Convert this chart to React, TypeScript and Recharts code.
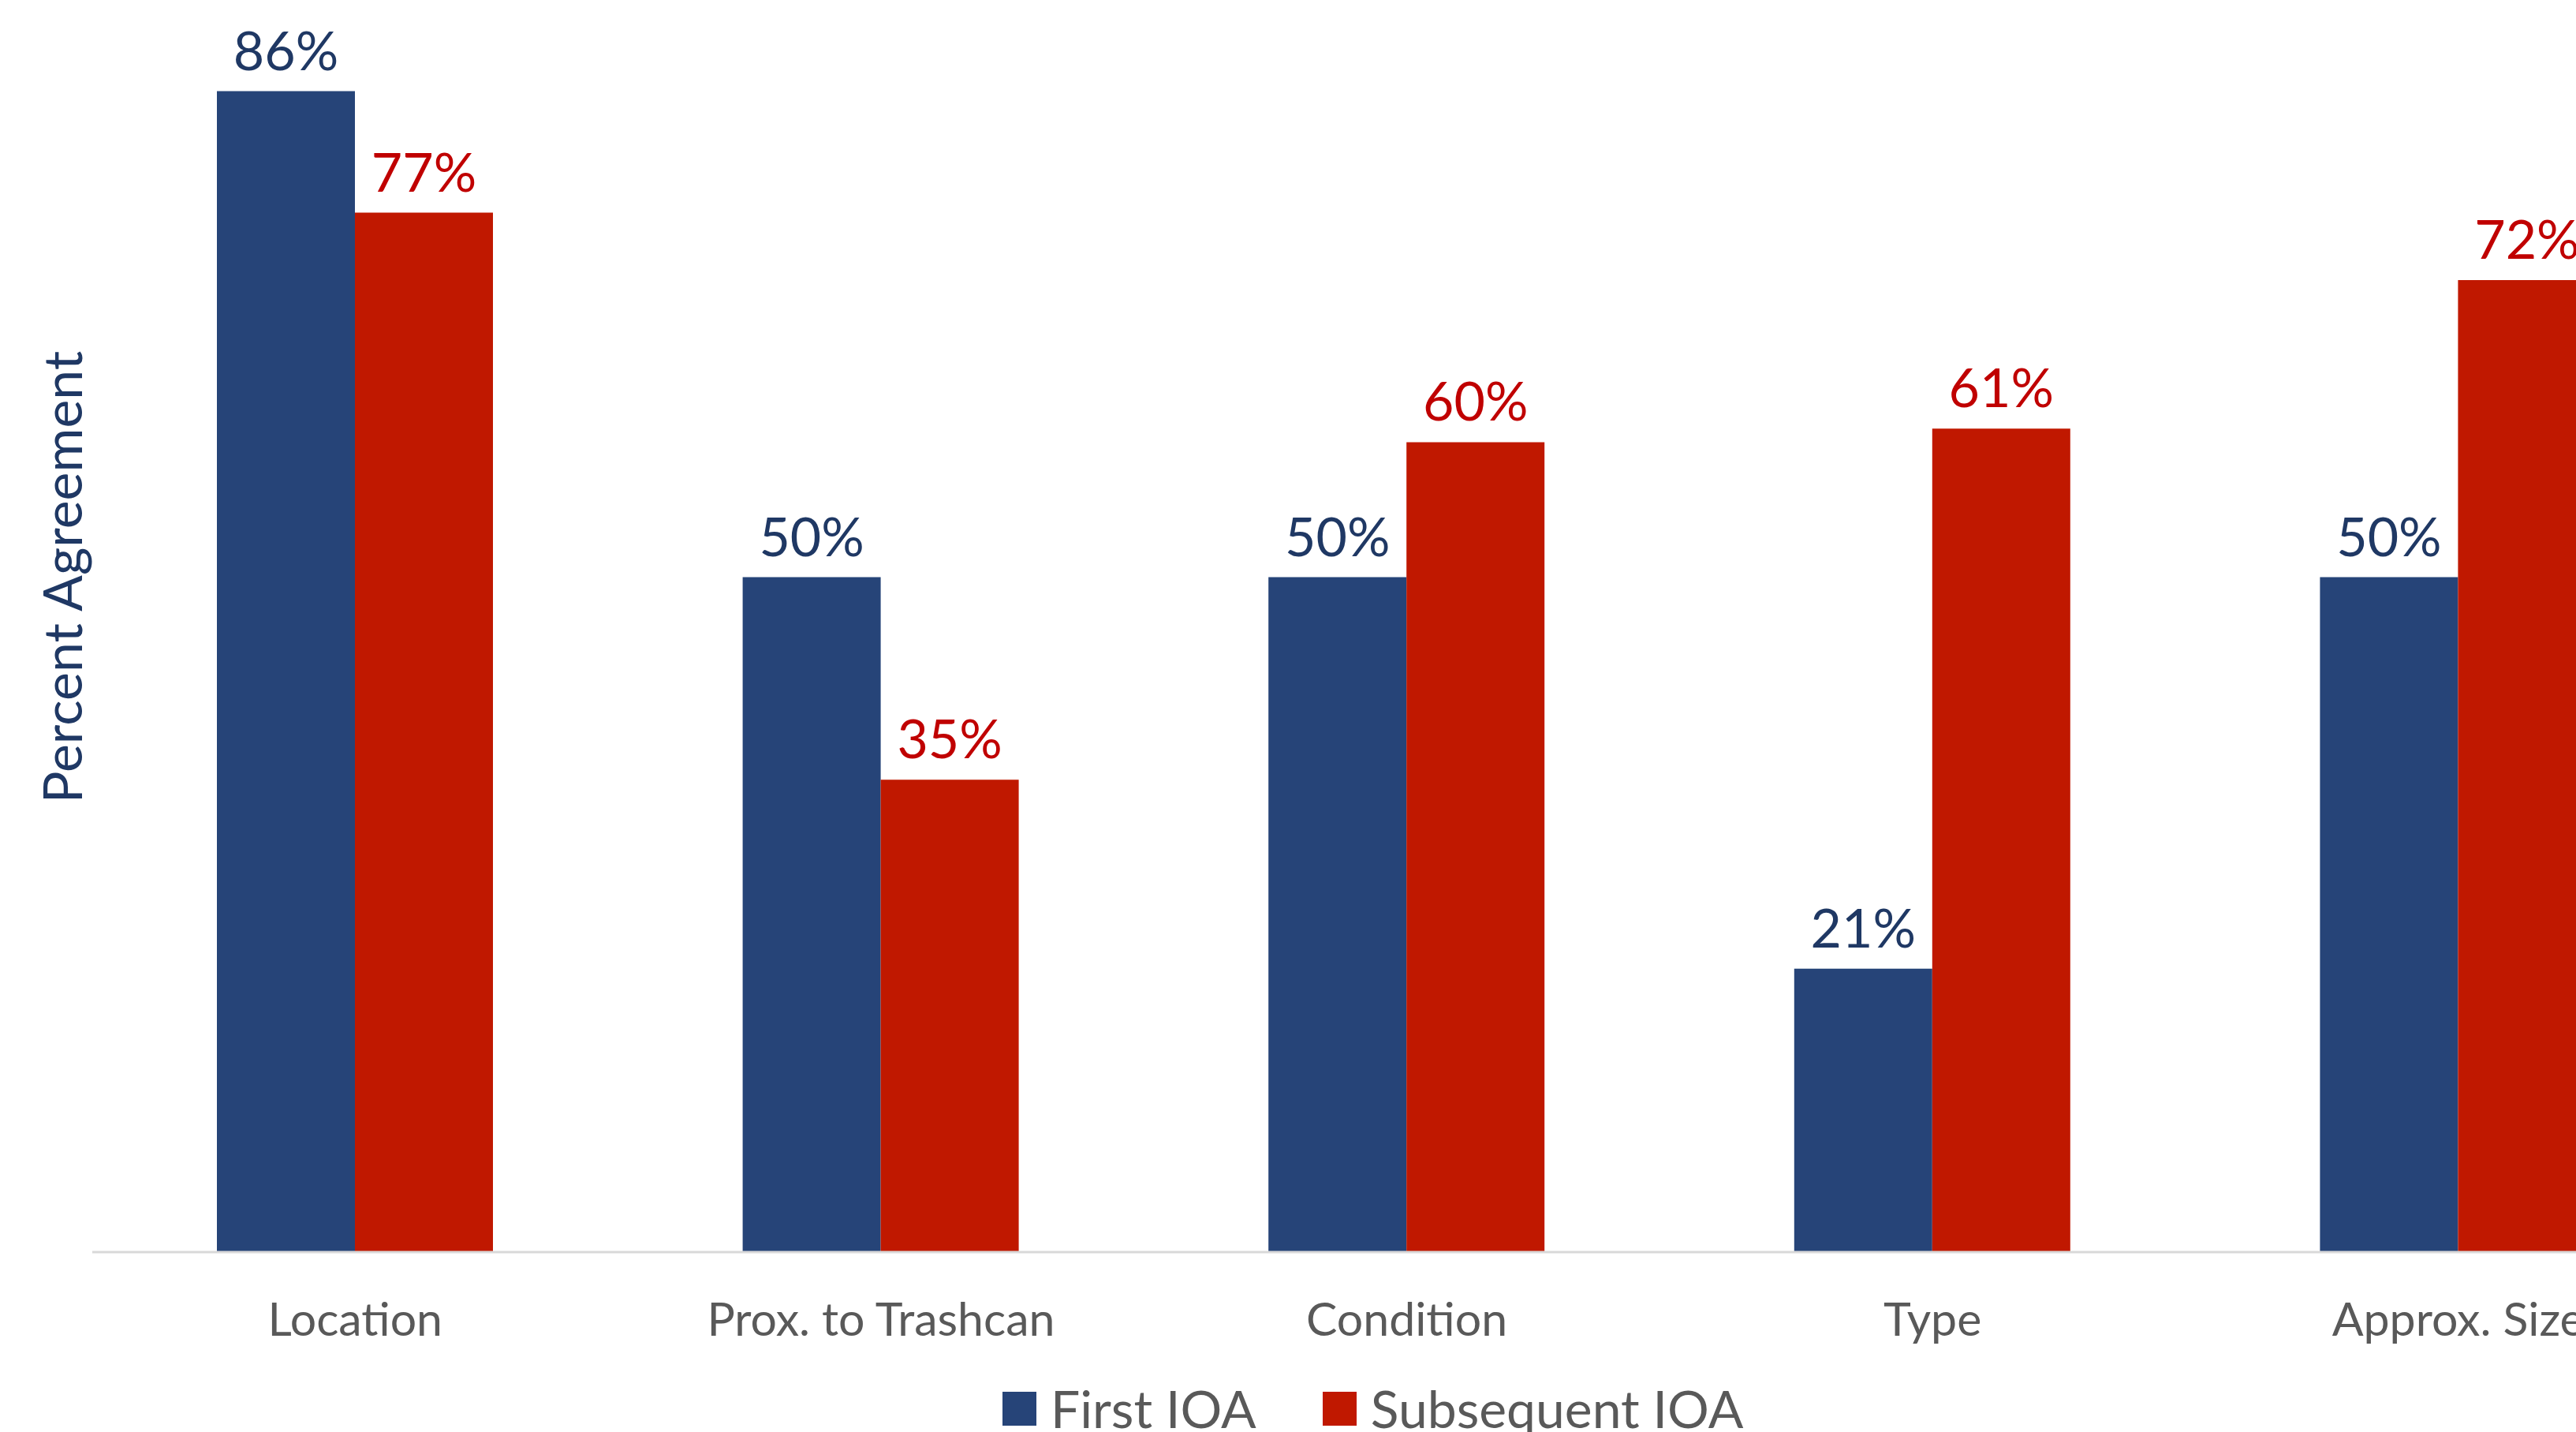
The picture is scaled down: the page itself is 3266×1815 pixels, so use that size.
import React from "react";
import { BarChart, Bar, XAxis, YAxis, Legend, LabelList } from "recharts";

// values (percent agreement)
const CATEGORIES = ["Location", "Prox. to Trashcan", "Condition", "Type", "Approx. Size"];
const FIRST_IOA = [86, 50, 50, 21, 50];
const SUBSEQUENT_IOA = [77, 35, 60, 61, 72];
const SERIES_NAMES = ["First IOA", "Subsequent IOA"];

const BLUE = "#264478";
const RED = "#C01800";
const BLUE_TEXT = "#1F3864";
const RED_TEXT = "#C00000";
const GREY_TEXT = "#595959";
const FONT = "Lato, 'Open Sans', sans-serif";

const chartData = CATEGORIES.map((name, i) => ({
  name,
  first: FIRST_IOA[i],
  subsequent: SUBSEQUENT_IOA[i],
}));

/**
 * Rotated y axis title
 */
const YTitle: React.FC<any> = ({ viewBox }) => {
  const x = (viewBox?.x ?? 0) + 77;
  const y = (viewBox?.y ?? 0) + (viewBox?.height ?? 0) / 2;
  return (
    <text
      x={x}
      y={y}
      transform={`rotate(-90, ${x}, ${y})`}
      textAnchor="middle"
      dominantBaseline="central"
      fontSize={68}
      fontFamily={FONT}
      fill={BLUE_TEXT}
    >
      Percent Agreement
    </text>
  );
};

const renderLegend = () => (
  <div
    style={{
      height: 96,
      display: "flex",
      alignItems: "center",
      paddingLeft: 1271,
      fontFamily: FONT,
    }}
  >
    {SERIES_NAMES.map((n, i) => (
      <div
        key={n}
        style={{ display: "flex", alignItems: "center", marginRight: 84 }}
      >
        <span
          style={{
            display: "inline-block",
            width: 43,
            height: 43,
            background: i === 0 ? BLUE : RED,
            marginRight: 18,
          }}
        />
        <span style={{ fontSize: 66, color: GREY_TEXT, lineHeight: "80px" }}>
          {n}
        </span>
      </div>
    ))}
  </div>
);

export default function App() {
  return (
    <div
      style={{
        position: "absolute",
        left: 0,
        top: 0,
        width: 3266,
        height: 1815,
        overflow: "hidden",
        background: "#fff",
      }}
    >
      {/* chart is wider/taller than the visible crop, like the source image */}
      <div style={{ position: "absolute", left: 0, top: -124 }}>
        <BarChart
          width={3492}
          height={1957}
          data={chartData}
          margin={{ top: 0, right: 42, bottom: 0, left: 0 }}
          barGap={0}
        >
          <XAxis
            dataKey="name"
            interval={0}
            tickLine={false}
            axisLine={{ stroke: "#D9D9D9", strokeWidth: 3 }}
            tick={{ fontSize: 59, fill: GREY_TEXT, fontFamily: FONT }}
            tickMargin={58}
            height={150}
          />
          <YAxis
            width={117}
            domain={[0, 100]}
            tick={false}
            axisLine={false}
            tickLine={false}
            label={(props: any) => <YTitle {...props} />}
          />
          <Legend verticalAlign="bottom" content={renderLegend} />
          <Bar
            dataKey="first"
            name={SERIES_NAMES[0]}
            fill={BLUE}
            barSize={175}
            isAnimationActive={false}
          >
            <LabelList
              dataKey="first"
              position="top"
              offset={27}
              formatter={(v: any) => `${v}%`}
              fill={BLUE_TEXT}
              fontSize={68}
              fontFamily={FONT}
            />
          </Bar>
          <Bar
            dataKey="subsequent"
            name={SERIES_NAMES[1]}
            fill={RED}
            barSize={175}
            isAnimationActive={false}
          >
            <LabelList
              dataKey="subsequent"
              position="top"
              offset={27}
              formatter={(v: any) => `${v}%`}
              fill={RED_TEXT}
              fontSize={68}
              fontFamily={FONT}
            />
          </Bar>
        </BarChart>
      </div>
    </div>
  );
}
